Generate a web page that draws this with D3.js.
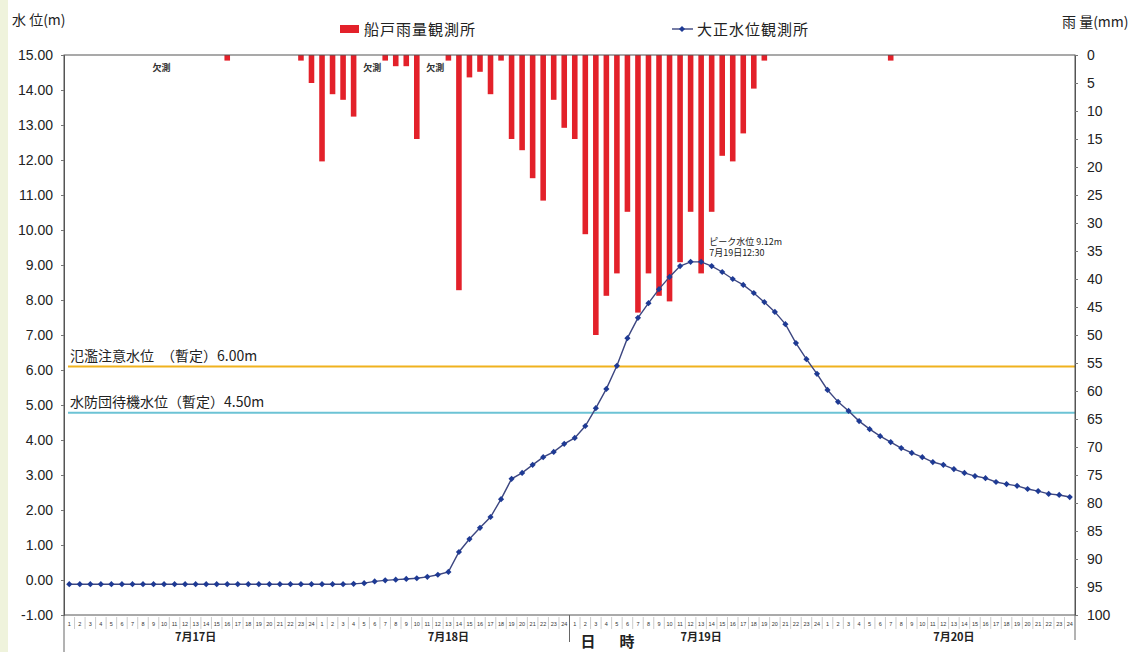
<!DOCTYPE html>
<html><head><meta charset="utf-8">
<script src="https://cdn.jsdelivr.net/npm/d3@7"></script>
<style>
html,body{margin:0;padding:0;background:#fff;}
svg{display:block;font-family:"Noto Sans CJK JP","Noto Sans",sans-serif;}
</style></head>
<body><svg id="c" width="1140" height="652"></svg>
<script>
// ---- data ----
const days = ["7月17日","7月18日","7月19日","7月20日"];
const hourLabels = d3.range(4).flatMap(() => d3.range(1,25));
// rainfall (mm/h), null = 欠測
const rainfall = [
 0,0,0,0,0,0,0,0,null,0,0,0,0,0,0,1,0,0,0,0,0,0,1,5,
 19,7,8,11,null,null,1,2,2,15,null,null,1,42,4,3,7,1,15,17,22,26,8,13,
 15,32,50,43,39,28,46,39,43,44,37,28,39,28,18,19,14,6,1,0,0,0,0,0,
 0,0,0,0,0,0,1,0,0,0,0,0,0,0,0,0,0,0,0,0,0,0,0,0
];
// water level (m)
const waterLevel = [
 -0.12,-0.12,-0.12,-0.12,-0.12,-0.12,-0.12,-0.12,-0.12,-0.12,-0.12,-0.12,
 -0.12,-0.12,-0.12,-0.12,-0.12,-0.12,-0.12,-0.12,-0.12,-0.12,-0.12,-0.12,
 -0.12,-0.12,-0.12,-0.11,-0.09,-0.04,-0.01,0.01,0.03,0.05,0.09,0.15,
 0.23,0.80,1.17,1.49,1.80,2.31,2.89,3.06,3.29,3.51,3.66,3.89,
 4.06,4.40,4.91,5.46,6.12,6.91,7.49,7.91,8.31,8.66,8.97,9.09,
 9.09,8.97,8.80,8.60,8.43,8.20,7.94,7.66,7.31,6.77,6.31,5.89,
 5.43,5.09,4.83,4.54,4.31,4.11,3.94,3.77,3.63,3.51,3.37,3.29,
 3.17,3.06,2.97,2.91,2.80,2.74,2.69,2.60,2.54,2.46,2.43,2.37
];
const leftTicks = d3.range(-1,16,1);
const rightTicks = d3.range(0,101,5);
const thresholdLevels = [6.1, 4.78];
const thresholdLabels = ["氾濫注意水位　（暫定）6.00m","水防団待機水位（暫定）4.50m"];
const thresholdColors = ["#f0b21e","#6cc3d5"];
const missingAt = [8, 28, 34];
const peakIndex = 60;
const peakText = ["ピーク水位 9.12m","7月19日12:30"];
const legendNames = ["船戸雨量観測所","大正水位観測所"];

// ---- drawing ----
const svg = d3.select("#c");
const L = 64, R = 1075, T = 55, B = 615;
svg.append("rect").attr("x",0).attr("y",0).attr("width",8).attr("height",652).attr("fill","#eff3dc");

const x = d3.scaleBand().domain(d3.range(96)).range([L,R]).padding(0);
const cx = i => x(i) + x.bandwidth()/2;
const yL = d3.scaleLinear().domain([-1,15]).range([B,T]);
const yR = d3.scaleLinear().domain([0,100]).range([T,B]);

// bars
const bw = x.bandwidth()*0.53;
svg.append("g").selectAll("rect").data(rainfall.map((v,i)=>({v,i})).filter(d=>d.v))
  .join("rect")
  .attr("x", d=>cx(d.i)-bw/2).attr("y", yR(0))
  .attr("width", bw).attr("height", d=>yR(d.v)-yR(0))
  .attr("fill","#e3212a");

// 欠測 labels
svg.append("g").selectAll("text").data(missingAt).join("text")
  .attr("x", d=>cx(d)-1).attr("y", 71).attr("font-size",9).attr("font-weight","bold")
  .attr("fill","#333").text("欠測");

// thresholds
thresholdLevels.forEach((v,k)=>{
  svg.append("line").attr("x1",L+4).attr("x2",R).attr("y1",yL(v)).attr("y2",yL(v))
    .attr("stroke",thresholdColors[k]).attr("stroke-width",2);
  svg.append("text").attr("x",L+6).attr("y",yL(v)-6).attr("font-size",14)
    .attr("fill","#222").text(thresholdLabels[k]);
});

// frame
svg.append("rect").attr("x",L).attr("y",T).attr("width",R-L).attr("height",B-T)
  .attr("fill","none").attr("stroke","#555").attr("stroke-width",1);

// axes
const fmt = d => d.toFixed(2);
const gl = svg.append("g").attr("transform",`translate(${L},0)`)
  .call(d3.axisLeft(yL).tickValues(leftTicks).tickFormat(fmt).tickSize(3).tickPadding(8));
const gr = svg.append("g").attr("transform",`translate(${R},0)`)
  .call(d3.axisRight(yR).tickValues(rightTicks).tickSize(3).tickPadding(9));
[gl,gr].forEach(g=>{
  g.select(".domain").attr("stroke","#555");
  g.selectAll(".tick line").attr("stroke","#777");
  g.selectAll("text").attr("font-family","'Liberation Sans',Arial,sans-serif")
    .attr("font-size",14).attr("fill","#222");
});

// water level line
svg.append("path").datum(waterLevel.map((v,i)=>({v,i})))
  .attr("d", d3.line().x(d=>cx(d.i)).y(d=>yL(d.v)))
  .attr("fill","none").attr("stroke","#3c4680").attr("stroke-width",1.4);
svg.append("g").selectAll("path").data(waterLevel.map((v,i)=>({v,i}))).join("path")
  .attr("d", d3.symbol(d3.symbolSquare, 19)())
  .attr("transform", d=>`translate(${cx(d.i)},${yL(d.v)}) rotate(45)`)
  .attr("fill","#1e3a94");

// peak annotation
peakText.forEach((t,k)=>{
  svg.append("text").attr("x",cx(peakIndex)+8).attr("y",yL(waterLevel[peakIndex])-17+k*11)
    .attr("font-size",9).attr("fill","#222").text(t);
});

// hour labels
const gx = svg.append("g");
gx.selectAll("text").data(hourLabels).join("text")
  .attr("x",(d,i)=>cx(i)).attr("y",626).attr("text-anchor","middle")
  .attr("font-size",5.5).attr("font-family","'Liberation Sans',Arial,sans-serif")
  .attr("fill","#333").text(d=>d);
gx.selectAll("line").data(d3.range(1,96)).join("line")
  .attr("x1",i=>x(i)).attr("x2",i=>x(i)).attr("y1",B+2).attr("y2",B+14)
  .attr("stroke","#aaa").attr("stroke-width",0.6);
[[L,652],[x(48),642],[R,640]].forEach(([xx,y2])=>{
  svg.append("line").attr("x1",xx).attr("x2",xx).attr("y1",B).attr("y2",y2)
    .attr("stroke","#666").attr("stroke-width",1);
});
days.forEach((d,k)=>{
  svg.append("text").attr("x",cx(k*24+12)).attr("y",641).attr("text-anchor","middle")
    .attr("font-size",11).attr("font-weight","bold").attr("fill","#222").text(d);
});
svg.append("text").attr("x",588).attr("y",647).attr("text-anchor","middle")
  .attr("font-size",15).attr("font-weight","bold").attr("fill","#222").text("日");
svg.append("text").attr("x",627).attr("y",647).attr("text-anchor","middle")
  .attr("font-size",15).attr("font-weight","bold").attr("fill","#222").text("時");

// axis titles
svg.append("text").attr("x",12).attr("y",25).attr("font-size",14).attr("fill","#222").text("水 位(m)");
svg.append("text").attr("x",1062).attr("y",27).attr("font-size",14).attr("fill","#222").text("雨 量(mm)");

// legend
svg.append("rect").attr("x",340).attr("y",25).attr("width",19).attr("height",8).attr("fill","#e3212a");
svg.append("text").attr("x",364).attr("y",35).attr("font-size",15).attr("letter-spacing",1)
  .attr("fill","#222").text(legendNames[0]);
svg.append("line").attr("x1",672).attr("x2",693).attr("y1",29).attr("y2",29)
  .attr("stroke","#3c4680").attr("stroke-width",1.4);
svg.append("path").attr("d",d3.symbol(d3.symbolSquare,19)())
  .attr("transform","translate(682,29) rotate(45)").attr("fill","#1e3a94");
svg.append("text").attr("x",697).attr("y",35).attr("font-size",15).attr("letter-spacing",1)
  .attr("fill","#222").text(legendNames[1]);
</script></body></html>
